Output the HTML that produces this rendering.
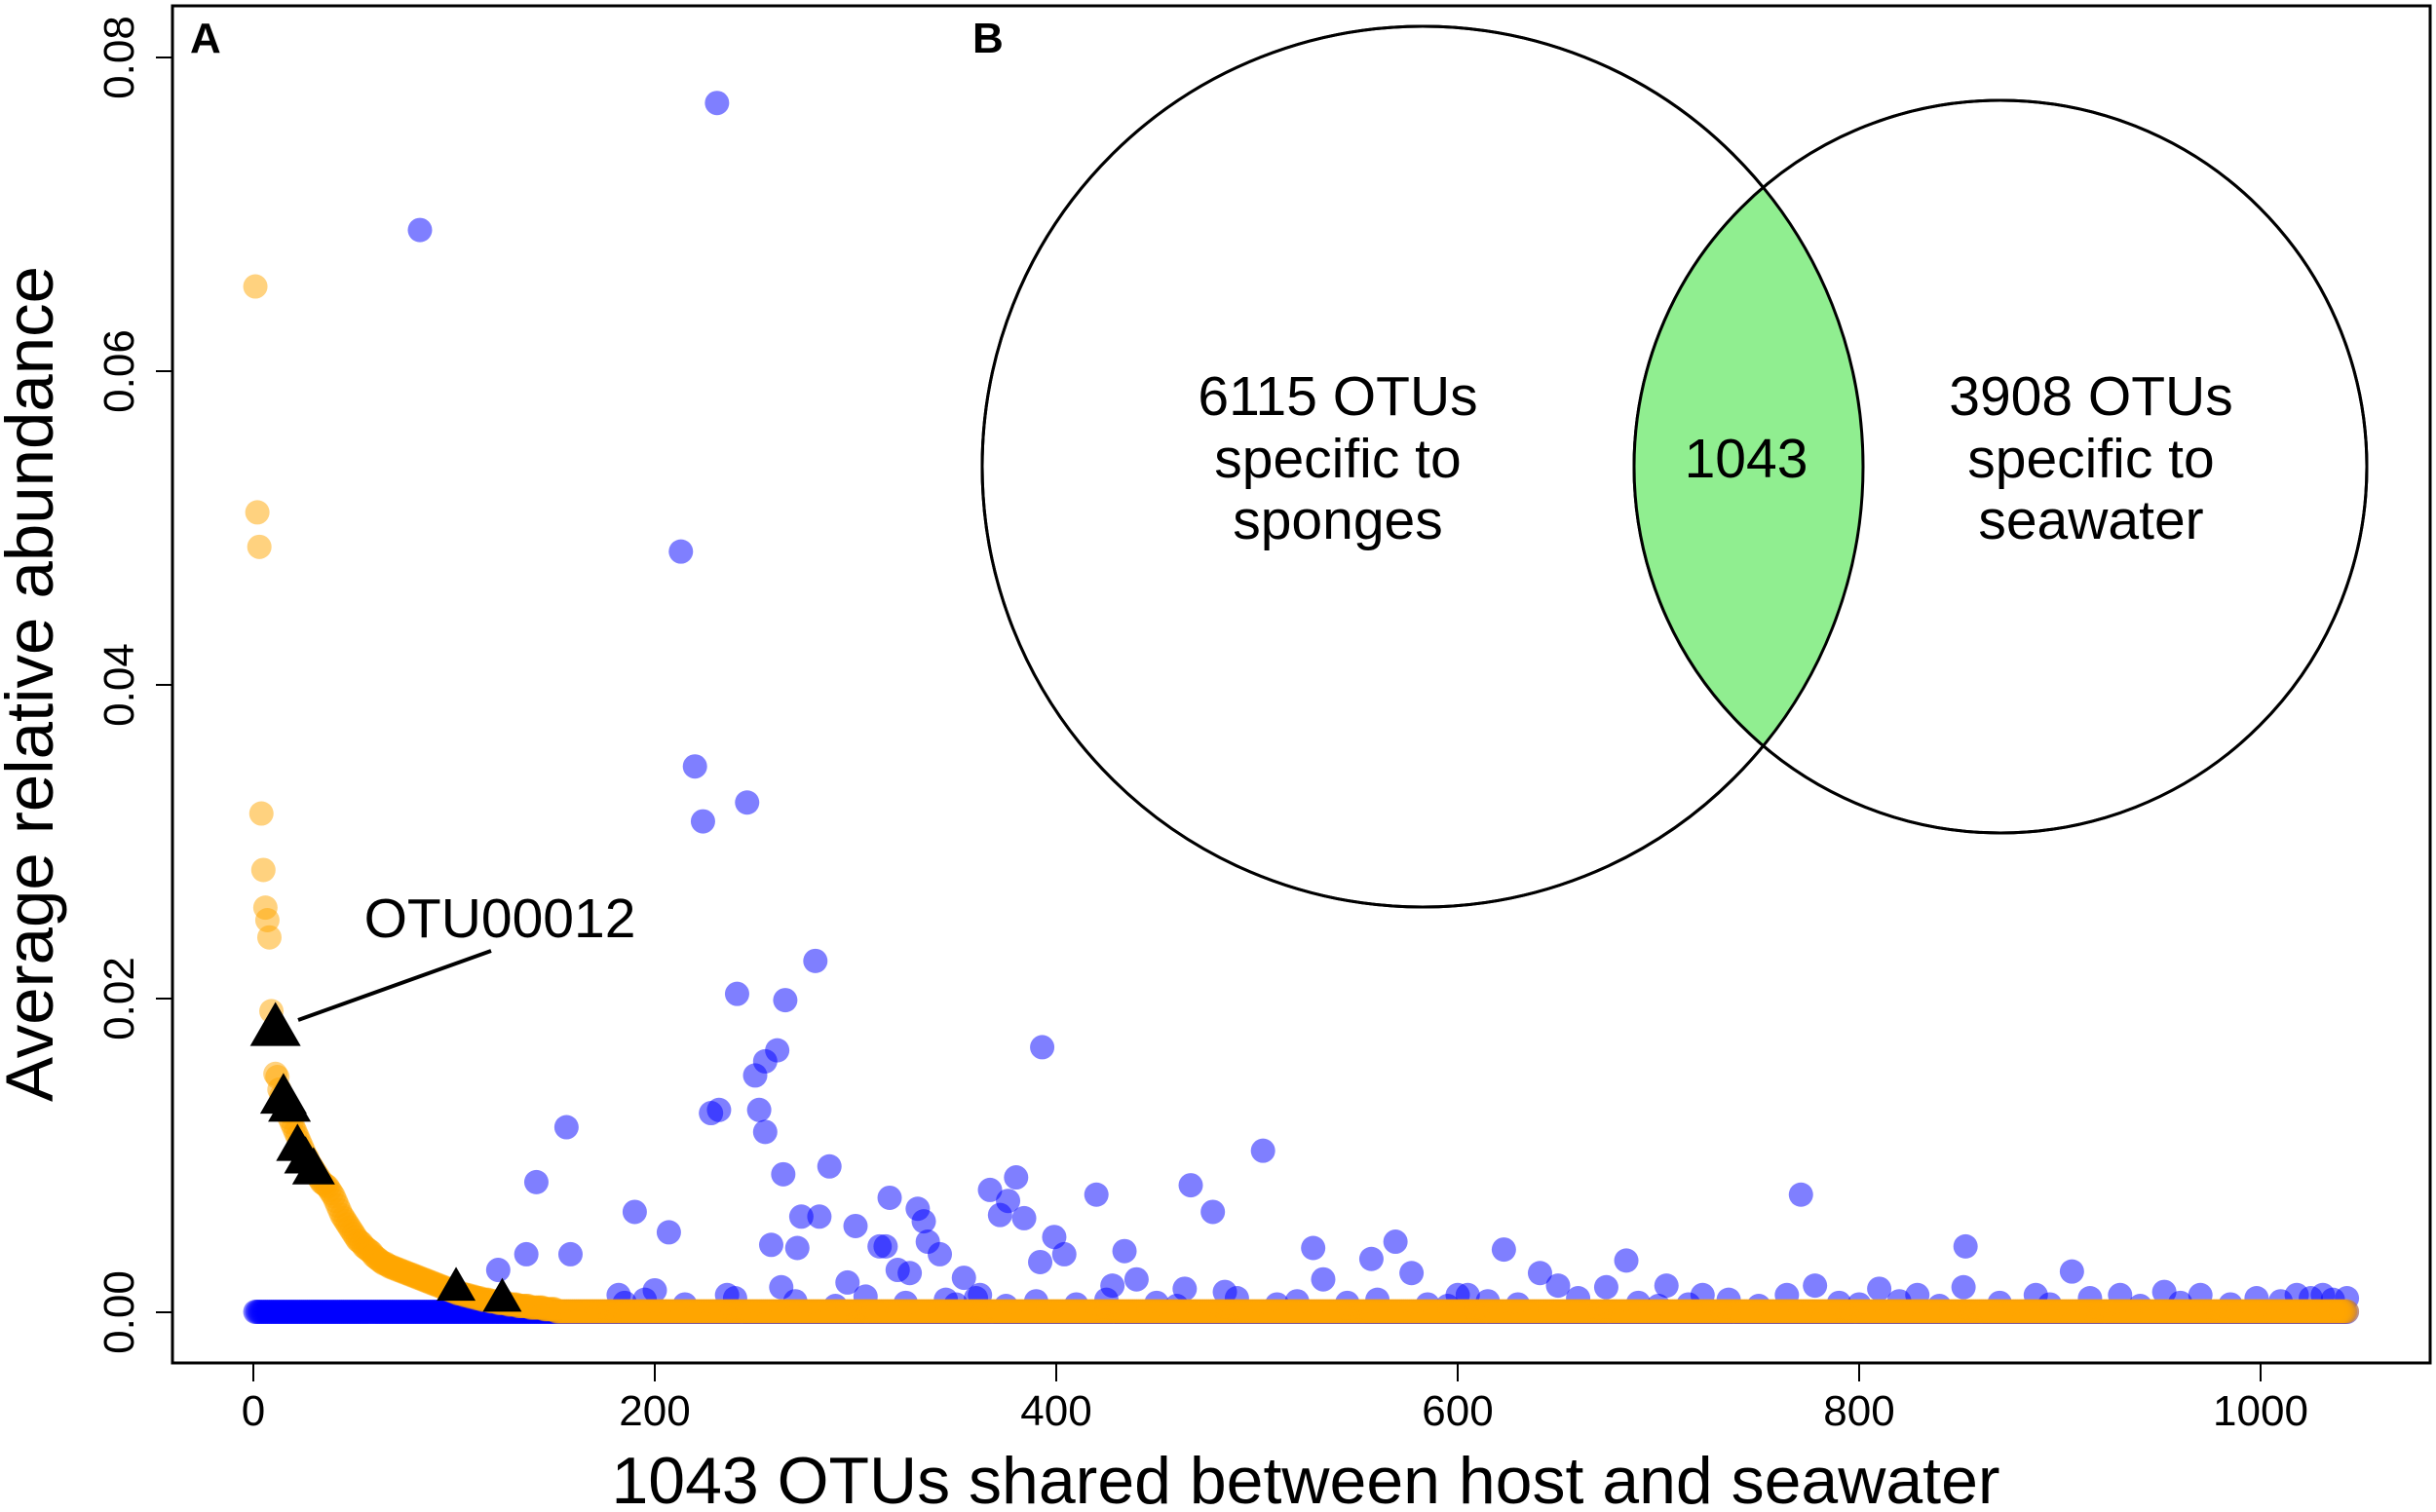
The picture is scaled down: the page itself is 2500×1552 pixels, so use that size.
<!DOCTYPE html>
<html><head><meta charset="utf-8">
<style>
html,body{margin:0;padding:0;background:#fff;}
svg{display:block;font-family:"Liberation Sans",Arial,sans-serif;}
</style></head>
<body>
<svg id="chart" width="2500" height="1552" viewBox="0 0 2500 1552">
  <rect x="0" y="0" width="2500" height="1552" fill="#fff"/>
  <g id="marks"></g>
  <rect x="177" y="6" width="2317" height="1393" fill="none" stroke="#000" stroke-width="3"/>
  <g id="axes"></g>
  <text x="1340" y="1543" font-size="68" text-anchor="middle">1043 OTUs shared between host and seawater</text>
  <text transform="translate(54,702) rotate(-90)" font-size="69" text-anchor="middle">Average relative abundance</text>
  <text x="195" y="54" font-size="44" font-weight="bold">A</text>
  <text x="998" y="54" font-size="44" font-weight="bold">B</text>
  <line x1="306" y1="1047" x2="504" y2="976" stroke="#000" stroke-width="4"/>
  <text x="513" y="962" font-size="57" text-anchor="middle">OTU00012</text>
  <g id="venn">
    <defs><clipPath id="clipL"><circle cx="1460" cy="479" r="452"/></clipPath></defs>
    <circle cx="1460" cy="479" r="452" fill="#fff" stroke="#000" stroke-width="3"/>
    <circle cx="2053" cy="479" r="376" fill="#fff" stroke="#000" stroke-width="3"/>
    <circle cx="2053" cy="479" r="376" fill="#90EE90" clip-path="url(#clipL)"/>
    <circle cx="1460" cy="479" r="452" fill="none" stroke="#000" stroke-width="3"/>
    <circle cx="2053" cy="479" r="376" fill="none" stroke="#000" stroke-width="3"/>
    <g font-size="57" text-anchor="middle">
      <text x="1373" y="426">6115 OTUs</text>
      <text x="1373" y="490">specific to</text>
      <text x="1373" y="553">sponges</text>
      <text x="1792" y="490">1043</text>
      <text x="2146" y="426">3908 OTUs</text>
      <text x="2146" y="490">specific to</text>
      <text x="2146" y="553">seawater</text>
    </g>
  </g>
</svg>
<script>
const xTicks = [0, 200, 400, 600, 800, 1000];
const yTicks = [0, 0.02, 0.04, 0.06, 0.08];
const yTickLabels = ["0.00", "0.02", "0.04", "0.06", "0.08"];
const nShared = 1043;
const baselineValue = 0.00003;
const orangeTailValue = 0.00006;
// orange (sponge abundance, sorted descending), indices 1..150
const orangeVal = [
0.0654,0.051,0.0488,0.0318,0.0282,0.0258,0.025,0.0239,0.0192,0.0180,
0.0152,0.0150,0.0142,0.0138,0.0135,0.0131,0.0128,0.0124,0.0121,0.0118,
0.0115,0.0112,0.0109,0.0106,0.0103,0.0100,0.0098,0.0095,0.0093,0.0091,
0.0089,0.0087,0.0085,0.0083,0.0082,0.0081,0.0080,0.0078,0.0076,0.0074,
0.0071,0.0068,0.0065,0.0062,0.0060,0.0058,0.0056,0.0054,0.0052,0.0050,
0.0048,0.0046,0.0045,0.0044,0.0042,0.0041,0.0040,0.0039,0.0038,0.0036,
0.0035,0.0034,0.0033,0.0032,0.0031,0.0031,0.0030,0.0029,0.0029,0.0028,
0.0028,0.0027,0.0027,0.0026,0.0026,0.0025,0.0025,0.0024,0.0024,0.0023,
0.0023,0.0022,0.0022,0.0021,0.0021,0.0020,0.0020,0.0019,0.0019,0.0018,
0.0018,0.0017,0.0017,0.0016,0.0016,0.0015,0.0015,0.0014,0.0014,0.0013,
0.0013,0.0012,0.0012,0.0012,0.0011,0.0011,0.0011,0.0010,0.0010,0.0010,
0.0009,0.0009,0.0009,0.0008,0.0008,0.0008,0.0008,0.0007,0.0007,0.0007,
0.0007,0.0006,0.0006,0.0006,0.0006,0.0006,0.0005,0.0005,0.0005,0.0005,
0.0005,0.0004,0.0004,0.0004,0.0004,0.0004,0.0004,0.0003,0.0003,0.0003,
0.0003,0.0003,0.0003,0.0003,0.0002,0.0002,0.0002,0.0002,0.0002,0.0002];
// blue (seawater abundance) scattered points
const blueIdx = [83,231,213,220,224,246,280,241,265,393,261,255,250,232,252,228,255,156,503,287,264,141,380,467,367,317,420,771,376,372,273,282,384,331,334,190,478,207,300,312,315,258,271,336,399,569,853,623,528,342,404,434,557,684,136,158,321,327,392,122,641,906,296,354,440,577,533,704,810,778,650,674,852,263,200,930,952,1018,1031,1043,998,970,888,829,764,722,600,605,484,464,428,236,182,362,
 185,195,215,240,270,290,305,325,345,350,360,375,390,410,425,450,460,490,510,520,545,560,585,595,615,630,660,690,700,715,735,750,790,800,820,840,870,895,915,940,960,985,1010,1025,1036];
const blueVal = [0.069,0.0771,0.0485,0.0348,0.0313,0.0325,0.0224,0.0203,0.0199,0.0169,0.0167,0.016,0.0151,0.0129,0.0129,0.0127,0.0115,0.0118,0.0103,0.0093,0.0088,0.0083,0.0086,0.0081,0.0078,0.0073,0.0075,0.0075,0.0071,0.0062,0.0061,0.0061,0.006,0.0066,0.0058,0.0064,0.0064,0.0051,0.0055,0.0042,0.0042,0.0043,0.0041,0.0045,0.0048,0.0045,0.0042,0.004,0.0041,0.0037,0.0037,0.0039,0.0034,0.0033,0.0037,0.0037,0.0027,0.0025,0.0032,0.0027,0.0025,0.0026,0.0019,0.0022,0.0021,0.0025,0.0021,0.0017,0.0015,0.0017,0.0017,0.0016,0.0016,0.0016,0.0014,0.0011,0.0013,0.0011,0.0011,0.0009,0.0009,0.0011,0.0011,0.0011,0.0011,0.0011,0.0011,0.0011,0.0013,0.0015,0.0017,0.0011,0.0011,0.0011,
 0.0006,0.0008,0.0005,0.0009,0.0007,0.0004,0.0010,0.0006,0.0008,0.0005,0.0009,0.0004,0.0007,0.0005,0.0008,0.0006,0.0004,0.0009,0.0005,0.0007,0.0006,0.0008,0.0005,0.0004,0.0007,0.0005,0.0009,0.0006,0.0004,0.0005,0.0008,0.0004,0.0006,0.0005,0.0007,0.0004,0.0006,0.0005,0.0009,0.0004,0.0006,0.0005,0.0007,0.0009,0.0008];
// highlighted OTUs (triangles)
const triIdx = [11,15,18,22,26,30,101,124];
const triVal = [0.0181,0.0137,0.0131,0.0106,0.0098,0.0091,0.0016,0.0009];
const triSize = [52,48,44,44,44,44,40,40];

const X0 = 260, XS = 2.06, Y0 = 1347, YS = 16100;
function xs(i){ return X0 + i * XS; }
function ys(v){ return Y0 - v * YS; }
const NS = "http://www.w3.org/2000/svg";
const marks = document.getElementById('marks');
const axes = document.getElementById('axes');
function circ(cx, cy, fill, op, name){
  const c = document.createElementNS(NS, 'circle');
  c.setAttribute('cx', cx); c.setAttribute('cy', cy); c.setAttribute('r', 12.5);
  c.setAttribute('fill', fill); c.setAttribute('fill-opacity', op);
  
  
  marks.appendChild(c);
}
for (let i = 1; i <= nShared; i++) {
  circ(xs(i), ys(baselineValue), '#0000ff', 0.5, 'blue-point');
}
for (let k = 0; k < blueIdx.length; k++) {
  circ(xs(blueIdx[k]), ys(blueVal[k]), '#0000ff', 0.5, 'blue-point');
}
for (let k = 0; k < orangeVal.length; k++) {
  circ(xs(k + 1), ys(orangeVal[k]), '#ffa500', 0.5, 'orange-point');
}
for (let i = orangeVal.length + 1; i <= nShared; i++) {
  circ(xs(i), ys(orangeTailValue), '#ffa500', 0.5, 'orange-point');
}
for (let k = 0; k < triIdx.length; k++) {
  const cx = xs(triIdx[k]), cy = ys(triVal[k]), s = triSize[k], h = s * 0.87;
  const p = document.createElementNS(NS, 'polygon');
  p.setAttribute('points', `${cx},${cy - h*0.6} ${cx - s/2},${cy + h*0.4} ${cx + s/2},${cy + h*0.4}`);
  p.setAttribute('fill', '#000');
  
  
  marks.appendChild(p);
}
xTicks.forEach(t => {
  const x = xs(t);
  const l = document.createElementNS(NS, 'line');
  l.setAttribute('x1', x); l.setAttribute('x2', x); l.setAttribute('y1', 1399); l.setAttribute('y2', 1418);
  l.setAttribute('stroke', '#000'); l.setAttribute('stroke-width', 2);
  
  
  axes.appendChild(l);
  const tx = document.createElementNS(NS, 'text');
  tx.setAttribute('x', x); tx.setAttribute('y', 1463); tx.setAttribute('font-size', 44);
  tx.setAttribute('text-anchor', 'middle'); tx.textContent = t;
  
  
  axes.appendChild(tx);
});
yTicks.forEach((t, k) => {
  const y = ys(t);
  const l = document.createElementNS(NS, 'line');
  l.setAttribute('x1', 160); l.setAttribute('x2', 177); l.setAttribute('y1', y); l.setAttribute('y2', y);
  l.setAttribute('stroke', '#000'); l.setAttribute('stroke-width', 2);
  
  
  axes.appendChild(l);
  const tx = document.createElementNS(NS, 'text');
  tx.setAttribute('transform', `translate(137,${y}) rotate(-90)`);
  tx.setAttribute('font-size', 44); tx.setAttribute('text-anchor', 'middle');
  tx.textContent = yTickLabels[k];
  
  
  axes.appendChild(tx);
});
</script>
</body></html>
